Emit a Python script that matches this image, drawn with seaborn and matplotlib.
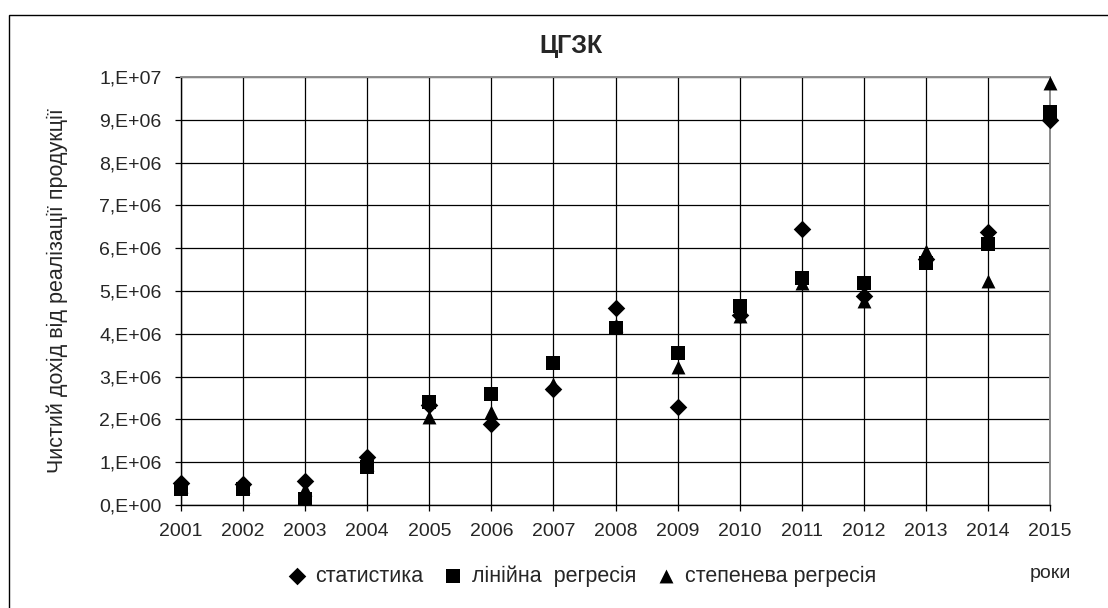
import numpy as np
import pandas as pd
import matplotlib as mpl
import matplotlib.pyplot as plt
from matplotlib.ticker import FuncFormatter, MultipleLocator
from matplotlib.patches import Rectangle
import seaborn as sns

sns.set_style("white")
mpl.rcParams['font.family'] = ['Liberation Sans', 'DejaVu Sans']

# дані
years = [2001, 2002, 2003, 2004, 2005, 2006, 2007, 2008,
         2009, 2010, 2011, 2012, 2013, 2014, 2015]
statystyka = [0.51e6, 0.48e6, 0.56e6, 1.11e6, 2.33e6, 1.90e6, 2.72e6, 4.60e6,
              2.29e6, 4.45e6, 6.45e6, 4.88e6, 5.74e6, 6.37e6, 9.00e6]
liniina = [0.37e6, 0.38e6, 0.13e6, 0.88e6, 2.41e6, 2.60e6, 3.31e6, 4.13e6,
           3.55e6, 4.64e6, 5.31e6, 5.18e6, 5.65e6, 6.09e6, 9.19e6]
stepeneva = [0.45e6, 0.45e6, 0.37e6, 0.95e6, 2.05e6, 2.17e6, 2.82e6, 4.21e6,
             3.23e6, 4.42e6, 5.18e6, 4.76e6, 5.94e6, 5.23e6, 9.86e6]

series_names = ['статистика', 'лінійна  регресія', 'степенева регресія']
markers = ['D', 's', '^']
sizes = [80, 88, 100]

df = pd.DataFrame({
    'рік': years * 3,
    'значення': statystyka + liniina + stepeneva,
    'ряд': np.repeat(series_names, len(years)),
})


def sci_fmt(v, pos):
    if v <= 0:
        return '0,E+00'
    e = int(np.floor(np.log10(v) + 1e-9))
    return '{m},E+{e:02d}'.format(m=int(round(v / 10 ** e)), e=e)


fig = plt.figure(figsize=(11.08, 6.08), dpi=100)
ax = fig.add_axes([181 / 1108, 1 - 505 / 608, 869 / 1108, 428 / 608])

for name, m, s in zip(series_names, markers, sizes):
    sns.scatterplot(data=df[df['ряд'] == name], x='рік', y='значення',
                    marker=m, s=s, color='black', edgecolor='black',
                    linewidth=0, label=name, ax=ax, clip_on=False, zorder=3)

ax.set_xlim(2001, 2015)
ax.set_ylim(0, 1e7)
ax.xaxis.set_major_locator(MultipleLocator(1))
ax.yaxis.set_major_locator(MultipleLocator(1e6))
ax.yaxis.set_major_formatter(FuncFormatter(sci_fmt))
ax.grid(True, color='black', lw=0.9)
ax.set_axisbelow(True)
ax.tick_params(axis='both', direction='out', length=4, width=0.9,
               color='black', bottom=True, left=True)
ax.tick_params(axis='x', labelsize=14, pad=9)
ax.tick_params(axis='y', labelsize=14, pad=10)
for side in ['left', 'bottom']:
    ax.spines[side].set_color('black')
    ax.spines[side].set_linewidth(1.0)
for side in ['top', 'right']:
    ax.spines[side].set_color('#8c8c8c')
    ax.spines[side].set_linewidth(1.4)

ax.set_xlabel('')
ax.set_ylabel('Чистий дохід від реалізації продукції', fontsize=15.5)
ax.yaxis.set_label_coords(-0.13, 0.5)

handles, labels = ax.get_legend_handles_labels()
ax.get_legend().remove()
fig.legend(handles, labels, loc='center', bbox_to_anchor=(581 / 1108, 1 - 576 / 608),
           ncol=3, frameon=False, fontsize=15.5, handletextpad=0.35,
           columnspacing=0.9, handlelength=1.0)

fig.text(1050 / 1108, 1 - 574 / 608, 'роки', ha='center', va='center', fontsize=14)
fig.text(571 / 1108, 1 - 46 / 608, 'ЦГЗК', ha='center', va='center',
         fontsize=18, fontweight='bold')

fig.patches.append(Rectangle((9 / 1108, -0.05), 1.2, 1 - 15 / 608 + 0.05,
                             transform=fig.transFigure, fill=False,
                             edgecolor='black', lw=1))

fig.savefig('out.png', dpi=100)
